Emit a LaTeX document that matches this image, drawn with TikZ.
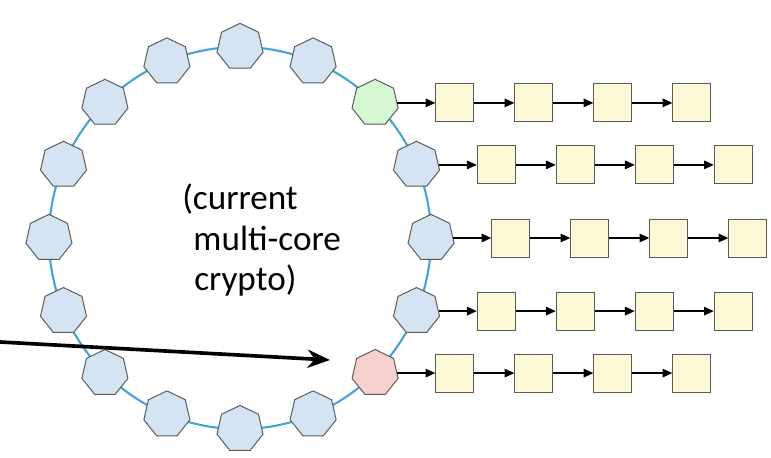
\documentclass[tikz,border=0pt]{standalone}
\usepackage{fontspec}
\setsansfont{Carlito}
\usetikzlibrary{shapes.geometric, positioning, arrows.meta}

\definecolor{ringblue}{HTML}{44A3D8}
\definecolor{heptblue}{HTML}{D4E4F2}
\definecolor{heptgreen}{HTML}{D5F7D2}
\definecolor{heptred}{HTML}{F6CFCF}
\definecolor{jobyellow}{HTML}{FDF8D5}
\definecolor{edgegray}{HTML}{5A5A5A}

\tikzset{
    core/.style={regular polygon, regular polygon sides=7, minimum size=1.18cm, inner sep=0pt,
        draw=edgegray, line width=0.7pt, fill=heptblue},
    job/.style={rectangle, minimum size=0.95cm, inner sep=0pt,
        draw=edgegray, line width=0.7pt, fill=jobyellow},
    link/.style={-{Triangle[length=7pt,width=6pt]}, line width=1.1pt},
}

\begin{document}
\begin{tikzpicture}[x=0.025cm, y=-0.025cm]
    \useasboundingbox (0,0) rectangle (771,458);
    % Ring of cores
    \coordinate (ring) at (240,238);
    \draw[ringblue, line width=1.5pt] (ring) circle[radius=4.775cm];
    \foreach \i in {0,1,3,4,5,7,8,...,15}
        \node[core] (h\i) at ([shift={(90-22.5*\i:4.775cm)}]ring) {};
    \node[core, fill=heptgreen] (h2) at ([shift={(45:4.775cm)}]ring) {};
    \node[core, fill=heptred] (h6) at ([shift={(-45:4.775cm)}]ring) {};
    % Chains
    \foreach \h/\r in {2/1, 3/2, 4/3, 5/4, 6/5} {
        \node[job, right=0.95cm of h\h] (b\r1) {};
        \draw[link] (h\h) -- (b\r1);
        \foreach \c [count=\p from 1] in {2,3,4} {
            \node[job, right=1.0cm of b\r\p] (b\r\c) {};
            \draw[link] (b\r\p) -- (b\r\c);
        }
    }
    % Label
    \node[anchor=north west, inner sep=0pt, align=left, font=\sffamily\fontsize{25}{28.5}\selectfont]
        (label) at (182,184) {(current\\\hspace*{0.28cm}multi-core\\\hspace*{0.3cm}crypto)};
    % Pointer
    \coordinate (feed) at (0,342);
    \coordinate (aim) at (330,360);
    \draw[line width=2.6pt, -{Stealth[length=16pt,width=13pt]}] (feed) -- (aim);
\end{tikzpicture}
\end{document}
